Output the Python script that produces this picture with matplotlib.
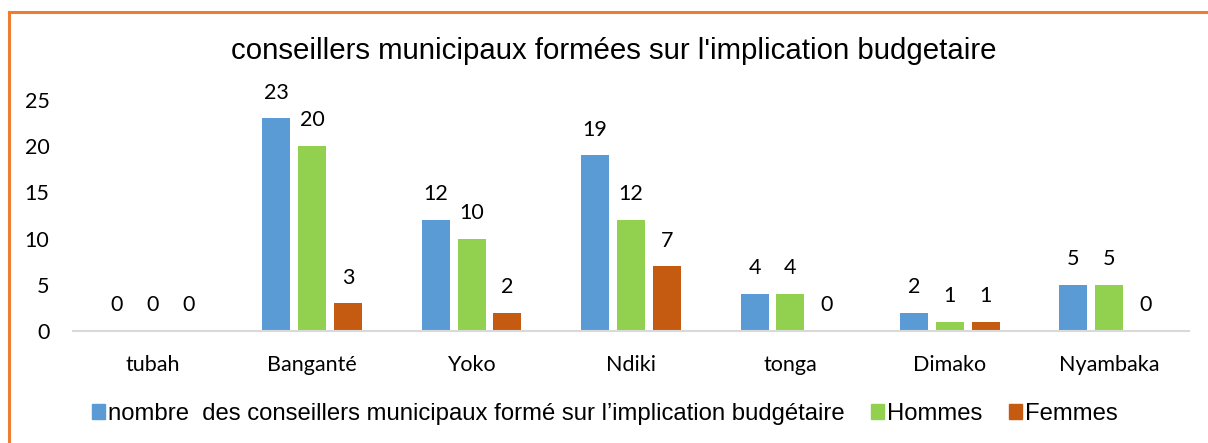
import numpy as np
import matplotlib
matplotlib.use("Agg")
import matplotlib.pyplot as plt
from matplotlib.lines import Line2D

# data
communes = ["tubah", "Banganté", "Yoko", "Ndiki", "tonga", "Dimako", "Nyambaka"]
total = [0, 23, 12, 19, 4, 2, 5]
hommes = [0, 20, 10, 12, 4, 1, 5]
femmes = [0, 3, 2, 7, 0, 1, 0]
series_names = ["nombre  des conseillers municipaux formé sur l’implication budgétaire",
                "Hommes", "Femmes"]
colors = ["#5b9bd5", "#92d050", "#c55a11"]

W, H = 1208, 443
fig = plt.figure(figsize=(W / 100, H / 100), dpi=100)
ax = fig.add_axes([73 / W, 1 - 331 / H, (1189 - 73) / W, (331 - 100) / H])

x = np.arange(len(communes))
bw = 0.176
step = 0.225
for i, (vals, name, c) in enumerate(zip([total, hommes, femmes], series_names, colors)):
    pos = x + (i - 1) * step
    ax.bar(pos, vals, width=bw, color=c, label=name, zorder=2)
    for p, v in zip(pos, vals):
        ax.text(p, v + 1.7, str(v), ha="center", va="bottom",
                fontsize=15.5, family="Lato", color="#000000")

ax.set_xlim(-0.5, len(communes) - 0.5)
ax.set_ylim(0, 25)
ax.set_yticks(range(0, 26, 5))
ax.set_xticks(x)
ax.set_xticklabels(communes)
for lab in ax.get_xticklabels() + ax.get_yticklabels():
    lab.set_family("Lato")
    lab.set_fontsize(15.5)
ax.tick_params(length=0)
ax.tick_params(axis="x", pad=17)
ax.tick_params(axis="y", pad=17)
for s in ["top", "right", "left"]:
    ax.spines[s].set_visible(False)
ax.spines["bottom"].set_color("#d9d9d9")
ax.spines["bottom"].set_linewidth(1.5)

fig.text(614 / W, 1 - 51 / H, "conseillers municipaux formées sur l'implication budgetaire",
         ha="center", va="center", fontsize=21.2, family="Liberation Sans")

handles = [plt.Rectangle((0, 0), 1, 1, color=c) for c in colors]
leg = fig.legend(handles, series_names, loc="center", bbox_to_anchor=(605 / W, 1 - 414 / H),
                 ncol=3, frameon=False, handlelength=0.55, handleheight=0.6,
                 handletextpad=0.12, columnspacing=1.1,
                 prop={"family": "Liberation Sans", "size": 17.2})

# orange frame (top and left only)
fig.add_artist(Line2D([8.5 / W, 8.5 / W], [0, 1 - 11.5 / H], transform=fig.transFigure,
                      color="#ed7d31", lw=2.2))
fig.add_artist(Line2D([8.5 / W, 1], [1 - 11.5 / H, 1 - 11.5 / H], transform=fig.transFigure,
                      color="#ed7d31", lw=2.2))

fig.savefig("out.png", dpi=100)
